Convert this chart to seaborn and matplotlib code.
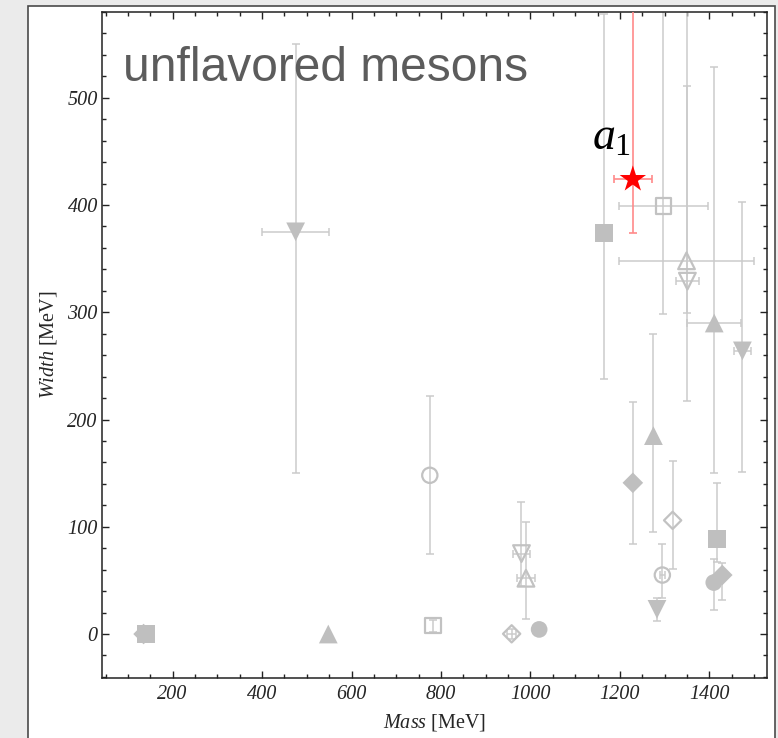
import numpy as np
import pandas as pd
import matplotlib
matplotlib.use("Agg")
import matplotlib.pyplot as plt
from matplotlib.patches import Rectangle
from matplotlib.ticker import MultipleLocator
import seaborn as sns

# ---------------- data ----------------
mass = [135.0, 139.6, 548.0, 475.0, 782.0, 775.0, 958.0, 1019.5, 980.0, 990.0,
        1165.0, 1297.0, 1349.0, 1351.0, 1411.0, 1474.0, 1229.0, 1275.0, 1318.0,
        1295.0, 1283.0, 1418.0, 1410.0, 1429.0]
width = [0.0, 0.0, 0.0, 375.0, 8.0, 148.0, 0.2, 4.3, 75.0, 52.0,
         374.0, 399.0, 348.0, 329.0, 290.0, 264.0, 141.0, 185.0, 106.0,
         55.0, 23.0, 89.0, 48.0, 55.0]
width_lo = [0.0, 0.0, 0.0, 150.0, 2.0, 75.0, -5.0, 4.3, 45.0, 14.0,
            238.0, 298.0, 217.0, 299.0, 150.0, 151.0, 84.0, 95.0, 61.0,
            34.0, 12.0, 67.0, 22.0, 32.0]
width_hi = [0.0, 0.0, 0.0, 550.0, 13.0, 222.0, 5.0, 4.3, 123.0, 104.0,
            578.0, 640.0, 640.0, 511.0, 529.0, 403.0, 216.0, 280.0, 161.0,
            84.0, 34.0, 141.0, 70.0, 66.0]
mass_err = [0, 0, 0, 75, 0, 0, 10, 0, 20, 20,
            0, 100, 150, 26, 60, 19, 0, 0, 0,
            5, 0, 0, 0, 0]
kind = ["filled diamond", "filled square", "filled triangle", "filled down",
        "open square", "open circle", "open diamond", "filled circle",
        "open down", "open triangle", "filled square", "open square",
        "open triangle", "open down", "filled triangle", "filled down",
        "filled diamond", "filled triangle", "open diamond", "open circle",
        "filled down", "filled square", "filled circle", "filled diamond"]

# highlighted state
a1_mass, a1_width = 1229.0, 424.0
a1_lo, a1_hi, a1_merr = 374.0, 650.0, 42.0
a1_label = r"$a_1$"

title = "unflavored mesons"
x_ticks = [200, 400, 600, 800, 1000, 1200, 1400]
y_ticks = [0, 100, 200, 300, 400, 500]

# ---------------- styles ----------------
FILL = "#bfbfbf"
EDGE = "#c2c2c2"
BAR = "#cbcbcb"
STYLE = {
    "filled diamond": dict(marker="D", size=10.5, filled=True),
    "filled square": dict(marker="s", size=13.0, filled=True),
    "filled triangle": dict(marker="^", size=13.5, filled=True),
    "filled down": dict(marker="v", size=13.5, filled=True),
    "filled circle": dict(marker="o", size=12.0, filled=True),
    "open diamond": dict(marker="D", size=8.8, filled=False),
    "open square": dict(marker="s", size=11.0, filled=False),
    "open triangle": dict(marker="^", size=12.0, filled=False),
    "open down": dict(marker="v", size=12.0, filled=False),
    "open circle": dict(marker="o", size=11.0, filled=False),
}

sns.set_theme(style="ticks")
plt.rcParams["font.family"] = ["Liberation Serif", "DejaVu Serif"]
plt.rcParams["mathtext.fontset"] = "custom"
plt.rcParams["mathtext.rm"] = "Liberation Serif"
plt.rcParams["mathtext.it"] = "Liberation Serif:italic"

df = pd.DataFrame(dict(mass=mass, width=width, lo=width_lo, hi=width_hi,
                       merr=mass_err, kind=kind))

fig = plt.figure(figsize=(7.78, 7.38), dpi=100, facecolor="#ebebeb")
panel = Rectangle((28 / 778, -0.02), 747 / 778, 1.02 - 6 / 738,
                  transform=fig.transFigure, facecolor="white",
                  edgecolor="#4a4a4a", linewidth=1.2, zorder=-1)
fig.patches.append(panel)

ax = fig.add_axes([102 / 778, 1 - 678 / 738, 665 / 778, 666 / 738])
ax.set_facecolor("white")

# error bars
ysub = df[(df.hi - df.lo) > 0]
ax.errorbar(ysub.mass, ysub.width, yerr=[ysub.width - ysub.lo, ysub.hi - ysub.width],
            fmt="none", ecolor=BAR, elinewidth=1.1, capsize=3, capthick=1.1, zorder=2)
xsub = df[df.merr > 0]
ax.errorbar(xsub.mass, xsub.width, xerr=xsub.merr,
            fmt="none", ecolor=BAR, elinewidth=1.1, capsize=3, capthick=1.1, zorder=2)

# markers
for k, st in STYLE.items():
    sub = df[df.kind == k]
    if sub.empty:
        continue
    if st["filled"]:
        sns.scatterplot(data=sub, x="mass", y="width", marker=st["marker"],
                        s=st["size"] ** 2, color=FILL, edgecolor="none",
                        linewidth=0, ax=ax, zorder=3, legend=False)
    else:
        sns.scatterplot(data=sub, x="mass", y="width", marker=st["marker"],
                        s=st["size"] ** 2, color=EDGE, facecolor="none",
                        edgecolor=EDGE, linewidth=1.6, ax=ax, zorder=3,
                        legend=False)

# highlighted a1
ax.errorbar([a1_mass], [a1_width], xerr=[a1_merr],
            yerr=[[a1_width - a1_lo], [a1_hi - a1_width]],
            fmt="none", ecolor="#ff8a8a", elinewidth=1.2, capsize=3,
            capthick=1.2, zorder=4)
sns.scatterplot(x=[a1_mass], y=[a1_width], marker="*", s=400, color="#ff0000",
                edgecolor="none", linewidth=0, ax=ax, zorder=5, legend=False)
ax.text(1138, 452, a1_label, fontsize=33, color="black", ha="left",
        va="baseline", zorder=6)

ax.text(0.0316, 0.897, title, transform=ax.transAxes, fontsize=34.5,
        color="#5c5c5c", family="Liberation Sans", va="baseline", ha="left")

ax.set_xlim(42, 1529)
ax.set_ylim(-41, 580)
ax.set_xticks(x_ticks)
ax.set_yticks(y_ticks)
ax.xaxis.set_minor_locator(MultipleLocator(50))
ax.yaxis.set_minor_locator(MultipleLocator(20))
ax.tick_params(which="both", direction="in", top=True, right=True,
               color="#222222", width=1.0)
ax.tick_params(which="major", length=5, labelsize=14.5)
ax.tick_params(which="minor", length=3)
ax.tick_params(axis="x", which="major", pad=5)
ax.tick_params(axis="y", which="major", pad=3)
for lab in ax.get_xticklabels() + ax.get_yticklabels():
    lab.set_fontstyle("italic")
    lab.set_family("Liberation Serif")
for sp in ax.spines.values():
    sp.set_color("#222222")
    sp.set_linewidth(1.1)

ax.set_xlabel(r"$\mathit{Mass}$ [MeV]", fontsize=14.5, labelpad=6)
ax.set_ylabel(r"$\mathit{Width}$ [MeV]", fontsize=14.5, labelpad=6)
ax.grid(False)

fig.savefig("out.png", dpi=100, facecolor=fig.get_facecolor())
